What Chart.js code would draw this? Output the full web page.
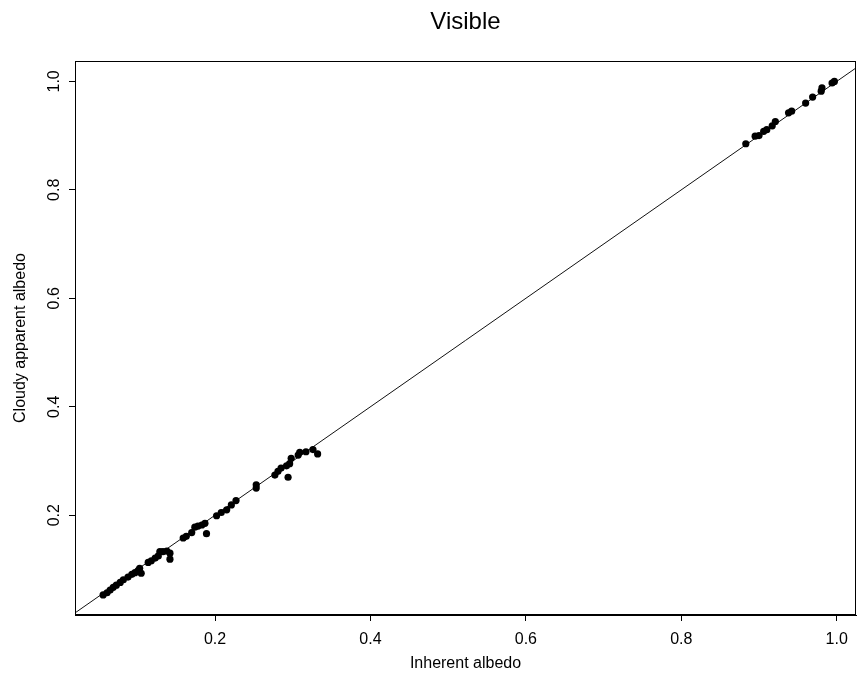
<!DOCTYPE html>
<html>
<head>
<meta charset="utf-8">
<title>Visible</title>
<script src="https://cdn.jsdelivr.net/npm/chart.js@4/dist/chart.umd.min.js"></script>
<style>
  html, body { margin: 0; padding: 0; background: #ffffff; }
  #wrap { width: 860px; height: 681px; }
</style>
</head>
<body>
<div id="wrap"><canvas id="chart" width="860" height="681"></canvas></div>
<script>
// Inherent vs. cloudy apparent albedo, visible band
const inherentAlbedo = [
  0.056, 0.061, 0.065, 0.069, 0.073, 0.078, 0.082, 0.088, 0.093, 0.097,
  0.101, 0.103, 0.105, 0.114, 0.118, 0.123, 0.127, 0.129, 0.133, 0.138,
  0.142, 0.142, 0.159, 0.163, 0.170, 0.174, 0.178, 0.183, 0.187, 0.189,
  0.202, 0.208, 0.215, 0.221, 0.227, 0.253, 0.253, 0.277, 0.281, 0.285,
  0.292, 0.296, 0.298, 0.307, 0.309, 0.317, 0.326, 0.332, 0.294,
  0.883, 0.895, 0.900, 0.906, 0.910, 0.917, 0.921, 0.938, 0.942, 0.960,
  0.969, 0.980, 0.981, 0.994, 0.997
];
const cloudyApparentAlbedo = [
  0.053, 0.057, 0.062, 0.067, 0.071, 0.076, 0.081, 0.086, 0.091, 0.094,
  0.098, 0.102, 0.093, 0.113, 0.116, 0.121, 0.125, 0.133, 0.133, 0.134,
  0.130, 0.119, 0.158, 0.161, 0.168, 0.178, 0.180, 0.182, 0.185, 0.166,
  0.199, 0.205, 0.210, 0.219, 0.227, 0.256, 0.250, 0.274, 0.281, 0.287,
  0.291, 0.295, 0.305, 0.311, 0.316, 0.317, 0.321, 0.313, 0.270,
  0.885, 0.899, 0.900, 0.908, 0.911, 0.918, 0.926, 0.942, 0.945, 0.960,
  0.971, 0.982, 0.988, 0.997, 1.000
];
// 1:1 reference line end points (clipped to the plot area)
const identityLine = [0, 1.1];
const xTickValues = [0.2, 0.4, 0.6, 0.8, 1.0];
const yTickValues = [0.2, 0.4, 0.6, 0.8, 1.0];

const FONT = '"Liberation Sans", Arial, Helvetica, sans-serif';

const points = inherentAlbedo.map((x, i) => ({ x: x, y: cloudyApparentAlbedo[i] }));
const linePts = identityLine.map(v => ({ x: v, y: v }));

// Box around the plotting region
const frame = {
  id: 'frame',
  afterDraw(chart) {
    const a = chart.chartArea, ctx = chart.ctx;
    ctx.save();
    ctx.strokeStyle = '#000';
    ctx.lineWidth = 1;
    ctx.strokeRect(Math.round(a.left) + 0.5, Math.round(a.top) + 0.5,
                   Math.round(a.right - a.left) - 1, Math.round(a.bottom - a.top) - 1);
    ctx.restore();
  }
};

new Chart(document.getElementById('chart'), {
  type: 'scatter',
  data: {
    datasets: [
      {
        label: 'Observations',
        data: points,
        backgroundColor: '#000',
        borderColor: '#000',
        pointRadius: 3.6,
        pointBorderWidth: 0,
        order: 1
      },
      {
        type: 'line',
        label: '1:1',
        data: linePts,
        borderColor: '#111',
        borderWidth: 1,
        pointRadius: 0,
        fill: false,
        order: 2
      }
    ]
  },
  options: {
    responsive: false,
    animation: false,
    devicePixelRatio: 1,
    layout: { padding: { left: 0, right: 3, top: 0, bottom: 0 } },
    plugins: {
      legend: { display: false },
      tooltip: { enabled: false },
      title: {
        display: true,
        text: 'Visible',
        fullSize: false,
        color: '#000',
        font: { family: FONT, size: 24, weight: 'normal' },
        padding: { top: 7.6, bottom: 24.6 }
      }
    },
    scales: {
      x: {
        type: 'linear',
        min: 0.0198,
        max: 1.0248,
        afterBuildTicks: s => { s.ticks = xTickValues.map(v => ({ value: v })); },
        afterFit: s => { s.height = 66; },
        grid: { display: true, drawOnChartArea: false, drawTicks: true, tickLength: 6, color: '#000' },
        border: { display: true, color: '#000', width: 1 },
        ticks: {
          color: '#000',
          padding: 9,
          maxRotation: 0,
          font: { family: FONT, size: 16 },
          callback: v => Number(v).toFixed(1)
        },
        title: {
          display: true,
          text: 'Inherent albedo',
          color: '#000',
          font: { family: FONT, size: 16 },
          padding: { top: 0, bottom: 7.4 }
        }
      },
      y: {
        type: 'linear',
        min: 0.016,
        max: 1.0376,
        afterBuildTicks: s => { s.ticks = yTickValues.map(v => ({ value: v })); },
        afterFit: s => { s.width = 75; },
        grid: { display: true, drawOnChartArea: false, drawTicks: true, tickLength: 6, color: '#000' },
        border: { display: true, color: '#000', width: 1 },
        ticks: {
          color: '#000',
          padding: 3,
          minRotation: 90,
          maxRotation: 90,
          crossAlign: 'center',
          font: { family: FONT, size: 16 },
          callback: v => Number(v).toFixed(1)
        },
        title: {
          display: true,
          text: 'Cloudy apparent albedo',
          color: '#000',
          font: { family: FONT, size: 16 },
          padding: { top: 11.4, bottom: 0 }
        }
      }
    }
  },
  plugins: [frame]
});
</script>
</body>
</html>
